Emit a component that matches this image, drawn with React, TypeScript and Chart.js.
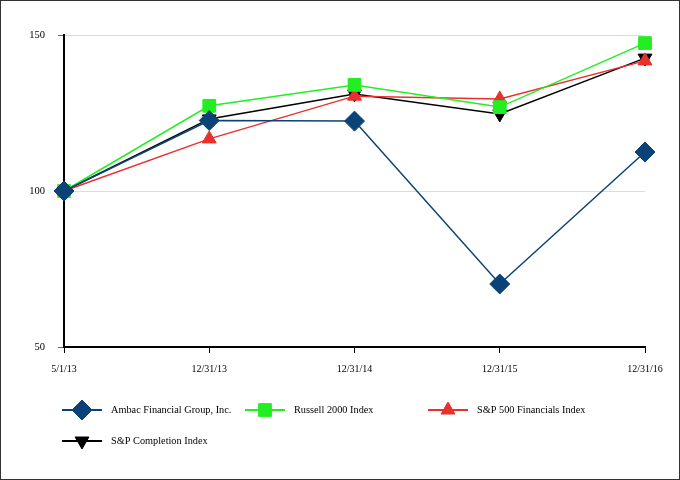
import React, { useEffect, useRef } from "react";
import { Chart, registerables } from "chart.js";
import { drawPoint } from "chart.js/helpers";

Chart.register(...registerables);

const categories = ["5/1/13", "12/31/13", "12/31/14", "12/31/15", "12/31/16"];
const ambac = [100, 122.6, 122.4, 70.2, 112.5];
const russell2000 = [100, 127.3, 134.0, 126.9, 147.4];
const sp500Financials = [100, 116.7, 130.4, 129.5, 141.7];
const spCompletion = [100, 123.1, 131.1, 124.7, 142.6];
const yTicks = [50, 100, 150];

const FONT = '"Liberation Serif", "Times New Roman", serif';

const legendPositions = [
  { x: 62, y: 410 },
  { x: 245, y: 410 },
  { x: 428, y: 410 },
  { x: 62, y: 441 },
];

const customLegend = {
  id: "customLegend",
  afterDraw(chart: any) {
    const ctx = chart.ctx;
    ctx.save();
    chart.data.datasets.forEach((ds: any, i: number) => {
      const p = legendPositions[i];
      if (!p) return;
      ctx.strokeStyle = ds.borderColor;
      ctx.lineWidth = 2;
      ctx.beginPath();
      ctx.moveTo(p.x, p.y);
      ctx.lineTo(p.x + 40, p.y);
      ctx.stroke();
      ctx.fillStyle = ds.pointBackgroundColor;
      ctx.strokeStyle = ds.pointBorderColor;
      ctx.lineWidth = 1;
      drawPoint(ctx, {
        pointStyle: ds.pointStyle,
        radius: ds.pointRadius,
        rotation: ds.pointRotation || 0,
        borderWidth: 1,
      }, p.x + 20, p.y);
      ctx.fillStyle = "#000";
      ctx.font = `10.3px ${FONT}`;
      ctx.textAlign = "left";
      ctx.textBaseline = "middle";
      ctx.fillText(ds.label, p.x + 49, p.y);
    });
    ctx.restore();
  },
};

export default function App() {
  const ref = useRef<HTMLCanvasElement | null>(null);

  useEffect(() => {
    document.body.style.margin = "0";
    if (!ref.current) return;
    const mk = (label: string, data: number[], color: string, style: string, radius: number, rotation = 0) => ({
      label,
      data,
      borderColor: color,
      backgroundColor: color,
      pointBackgroundColor: color,
      pointBorderColor: color,
      pointStyle: style,
      pointRadius: radius,
      pointHoverRadius: radius,
      pointRotation: rotation,
      pointBorderWidth: 1,
      borderWidth: 1.5,
      tension: 0,
      fill: false,
    });
    const chart = new Chart(ref.current, {
      type: "line",
      data: {
        labels: categories,
        datasets: [
          mk("Ambac Financial Group, Inc.", ambac, "#0b4378", "rectRot", 10),
          mk("Russell 2000 Index", russell2000, "#22ee22", "rect", 9),
          mk("S&P 500 Financials Index", sp500Financials, "#e8302e", "triangle", 8),
          mk("S&P Completion Index", spCompletion, "#000000", "triangle", 8, 180),
        ],
      },
      plugins: [customLegend],
      options: {
        responsive: false,
        animation: false,
        events: [],
        layout: { padding: { left: 0, top: 35, right: 35, bottom: 93 } },
        plugins: {
          legend: { display: false },
          tooltip: { enabled: false },
          title: { display: false },
        },
        scales: {
          x: {
            type: "category",
            offset: false,
            afterFit: (s: any) => { s.height = 40; },
            grid: {
              drawOnChartArea: false,
              drawTicks: true,
              tickLength: 6,
              tickColor: "#000",
            },
            border: { display: true, color: "#000", width: 2 },
            ticks: {
              color: "#000",
              font: { family: FONT, size: 10 },
              padding: 10,
              maxRotation: 0,
              autoSkip: false,
            },
          },
          y: {
            min: 50,
            max: 150,
            afterFit: (s: any) => { s.width = 64; },
            afterBuildTicks: (s: any) => { s.ticks = yTicks.map((v) => ({ value: v })); },
            grid: {
              color: "#dcdcdc",
              lineWidth: 1,
              drawTicks: true,
              tickLength: 6,
              tickColor: "#666",
            },
            border: { display: true, color: "#000", width: 2 },
            ticks: {
              color: "#000",
              font: { family: FONT, size: 10.5 },
              padding: 13,
            },
          },
        },
      } as any,
    });
    return () => chart.destroy();
  }, []);

  return (
    <div style={{ position: "relative", width: 680, height: 480, background: "#fff" }}>
      <canvas ref={ref} width={680} height={480} style={{ display: "block" }} />
      <div
        style={{
          position: "absolute",
          left: 0,
          top: 0,
          width: 680,
          height: 480,
          boxSizing: "border-box",
          border: "1px solid #333",
          pointerEvents: "none",
        }}
      />
    </div>
  );
}
